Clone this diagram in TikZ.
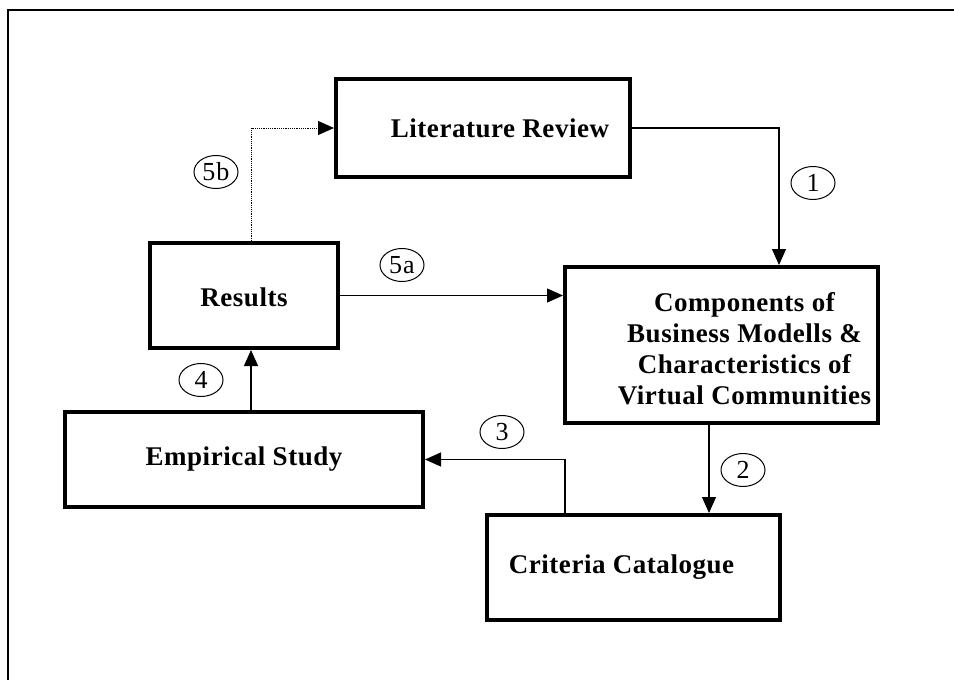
\documentclass[tikz,border=0pt]{standalone}
\usepackage{fontspec}
\setmainfont{Liberation Serif}
\newfontfamily\boxfont{Liberation Serif}[LetterSpace=2]
\newfontfamily\numfont{Liberation Serif}[LetterSpace=4]
\usetikzlibrary{arrows.meta,shapes.geometric}
\begin{document}
\begin{tikzpicture}[x=1pt,y=-1pt,
  box/.style={draw,line width=4pt,inner sep=0pt},
  boxtext/.style={font=\boxfont\bfseries\fontsize{27}{31}\selectfont,align=center,inner sep=0pt},
  conn/.style={line width=1.2pt,-{Triangle[length=16pt,width=14pt]}},
  num/.style={draw,ellipse,line width=1pt,minimum width=44pt,minimum height=33pt,inner sep=0pt,font=\numfont\fontsize{26}{26}\selectfont}]
\useasboundingbox (0,0) rectangle (954,680);
\draw[line width=1.5pt] (954,10) -| (8,680);

% boxes
\node[box,minimum width=294pt,minimum height=98pt] (lit) at (483,128) {};
\node[boxtext] (littext) at ([xshift=17pt]lit.center) {Literature Review};
\node[box,minimum width=188pt,minimum height=105pt] (res) at (244,295.5) {};
\node[boxtext] (restext) at ([yshift=-2pt]res.center) {Results};
\node[box,minimum width=358pt,minimum height=95pt] (emp) at (244,459.5) {};
\node[boxtext] (emptext) at (emp.center) {Empirical Study};
\node[box,minimum width=293pt,minimum height=105pt] (crit) at (633.5,567.5) {};
\node[boxtext] (crittext) at ([xshift=-12pt]crit.center) {Criteria Catalogue};
\node[box,minimum width=313pt,minimum height=156pt] (comp) at (721.5,345) {};
\node[boxtext] (comptext) at ([xshift=23pt,yshift=-4pt]comp.center) {Components of\\Business Modells \&\\Characteristics of\\Virtual Communities};

% connectors
\draw[conn] (lit.east) -| ([xshift=57.5pt]comp.north);
\draw[conn] ([xshift=-12.5pt]comp.south) -- ([xshift=-12.5pt]comp.south |- crit.north);
\draw[conn] ([xshift=-68.5pt]crit.north) |- (emp.east);
\draw[conn] ([xshift=7pt]emp.north) -- ([xshift=7pt]emp.north |- res.south);
\draw[conn] (res.east) -- (res.east -| comp.west);
\draw[conn,densely dotted,line width=1pt] ([xshift=7pt]res.north) |- (lit.west);

% numbers
\node[num] (n1) at (813,183) {1};
\node[num] (n2) at (743,470) {2};
\node[num] (n3) at (502,432) {3};
\node[num] (n4) at (201,380) {4};
\node[num] (n5a) at (402,265) {5a};
\node[num] (n5b) at (216,172) {5b};
\end{tikzpicture}
\end{document}
